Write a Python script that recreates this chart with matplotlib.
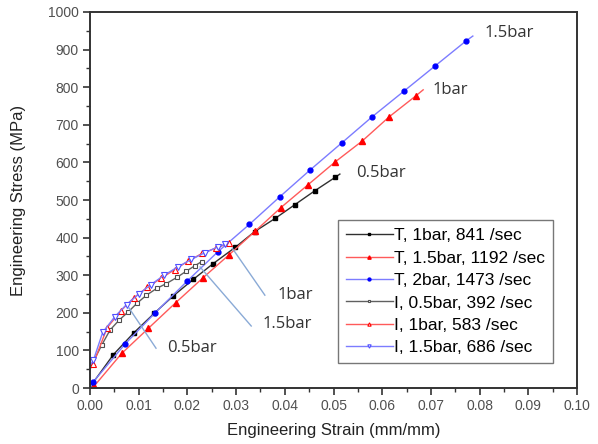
import matplotlib
matplotlib.use("Agg")
import matplotlib.pyplot as plt

plt.rcParams['font.family'] = ['Liberation Sans', 'DejaVu Sans']

# T series (filled markers)
t1_x = [0.0, 0.0005, 0.0048, 0.0090, 0.0132, 0.0171, 0.0212, 0.0253, 0.0298, 0.0338, 0.0380, 0.0421, 0.0462, 0.0503, 0.0513]
t1_y = [0, 12, 89, 147, 199, 245, 289, 331, 374, 416, 451, 488, 525, 560, 569]

t15_x = [0.0, 0.0009, 0.0065, 0.0120, 0.0176, 0.0231, 0.0286, 0.0339, 0.0392, 0.0448, 0.0503, 0.0559, 0.0614, 0.0669, 0.0684]
t15_y = [0, 6, 92, 159, 227, 292, 355, 417, 480, 541, 601, 657, 721, 777, 793]

t2_x = [0.0, 0.0007, 0.0072, 0.0133, 0.0200, 0.0263, 0.0327, 0.0390, 0.0452, 0.0517, 0.0579, 0.0645, 0.0708, 0.0772, 0.0786]
t2_y = [0, 17, 117, 199, 285, 363, 435, 509, 580, 652, 721, 790, 856, 923, 936]

# I series (open markers)
i05_x = [0.0, 0.0024, 0.0041, 0.0060, 0.0079, 0.0096, 0.0116, 0.0137, 0.0157, 0.0178, 0.0198, 0.0215, 0.0229]
i05_y = [53, 114, 154, 181, 203, 225, 247, 265, 278, 294, 311, 325, 336]

i1_x = [0.0, 0.0007, 0.0035, 0.0063, 0.0090, 0.0118, 0.0146, 0.0174, 0.0202, 0.0230, 0.0258, 0.0285]
i1_y = [50, 65, 160, 205, 240, 268, 292, 315, 338, 358, 372, 385]

i15_x = [0.0, 0.0007, 0.0026, 0.0051, 0.0075, 0.0100, 0.0125, 0.0152, 0.0180, 0.0208, 0.0236, 0.0262, 0.0278]
i15_y = [60, 74, 148, 190, 222, 250, 275, 300, 322, 342, 360, 375, 383]

labels = ["T, 1bar, 841 /sec", "T, 1.5bar, 1192 /sec", "T, 2bar, 1473 /sec",
          "I, 0.5bar, 392 /sec", "I, 1bar, 583 /sec", "I, 1.5bar, 686 /sec"]

x_ticks = [0.00, 0.01, 0.02, 0.03, 0.04, 0.05, 0.06, 0.07, 0.08, 0.09, 0.10]
y_ticks = [0, 100, 200, 300, 400, 500, 600, 700, 800, 900, 1000]

fig = plt.figure(figsize=(5.98, 4.44), dpi=100)
ax = fig.add_axes([0.1505, 0.126, 0.8145, 0.847])

def mid(n):
    return list(range(1, n - 1))

ax.plot(t1_x, t1_y, color='#303030', lw=1.0, marker='s', ms=3.2, mfc='black', mec='black',
        markevery=mid(len(t1_x)), label=labels[0])
ax.plot(t15_x, t15_y, color='#ff5a5a', lw=1.0, marker='^', ms=4, mfc='red', mec='red',
        markevery=mid(len(t15_x)), label=labels[1])
ax.plot(t2_x, t2_y, color='#7c7cff', lw=1.0, marker='o', ms=3.5, mfc='blue', mec='blue',
        markevery=mid(len(t2_x)), label=labels[2])
ax.plot(i05_x, i05_y, color='#606060', lw=1.0, marker='s', ms=3.5, mfc='white', mec='#505050',
        mew=0.8, markevery=list(range(1, len(i05_x))), label=labels[3])
ax.plot(i1_x, i1_y, color='#ff5a5a', lw=1.0, marker='^', ms=4, mfc='white', mec='red',
        mew=0.8, markevery=list(range(1, len(i1_x))), label=labels[4])
ax.plot(i15_x, i15_y, color='#7c7cff', lw=1.0, marker='v', ms=4, mfc='white', mec='#5050ff',
        mew=0.8, markevery=list(range(1, len(i15_x))), label=labels[5])

# annotation lines
ann_col = '#8aaad6'
ax.plot([0.0080, 0.01355], [213, 106], color=ann_col, lw=1.0)
ax.plot([0.0226, 0.0331], [322, 165], color=ann_col, lw=1.0)
ax.plot([0.0292, 0.0359], [372, 247], color=ann_col, lw=1.0)

txt_kw = dict(fontsize=12, color='#333333', va='center', ha='left', family=['Open Sans', 'DejaVu Sans'])
ax.text(0.0158, 106, "0.5bar", **txt_kw)
ax.text(0.0355, 170, "1.5bar", **txt_kw)
ax.text(0.0386, 247, "1bar", **txt_kw)
ax.text(0.0811, 944, "1.5bar", **txt_kw)
ax.text(0.0704, 793, "1bar", **txt_kw)
ax.text(0.0546, 572, "0.5bar", **txt_kw)

ax.set_xlim(0, 0.10)
ax.set_ylim(0, 1000)
ax.set_xticks(x_ticks)
ax.set_xticklabels([f"{v:.2f}" for v in x_ticks])
ax.set_yticks(y_ticks)
ax.set_yticklabels([str(v) for v in y_ticks])
ax.set_xticks([0.005 + 0.01 * k for k in range(10)], minor=True)
ax.set_yticks([50 + 100 * k for k in range(10)], minor=True)
ax.tick_params(axis='both', which='major', direction='out', length=5, width=1.2, pad=3,
               labelsize=10, labelcolor='#505050', color='#333333')
ax.tick_params(axis='both', which='minor', direction='out', length=3, width=1.0, color='#333333')

for s in ax.spines.values():
    s.set_linewidth(1.4)
    s.set_color('#333333')

ax.set_xlabel("Engineering Strain (mm/mm)", fontsize=12, color='#222222', labelpad=7)
ax.set_ylabel("Engineering Stress (MPa)", fontsize=12, color='#222222', labelpad=16)

leg = ax.legend(loc='lower right', bbox_to_anchor=(0.951, 0.066), fontsize=12.5,
                frameon=True, fancybox=False, edgecolor='#555555', borderpad=0.45,
                labelspacing=0.42, handlelength=2.7, handletextpad=0.1, borderaxespad=0,
                markerscale=0.6)
leg.get_frame().set_linewidth(1.0)

fig.savefig("out.png", dpi=100)
